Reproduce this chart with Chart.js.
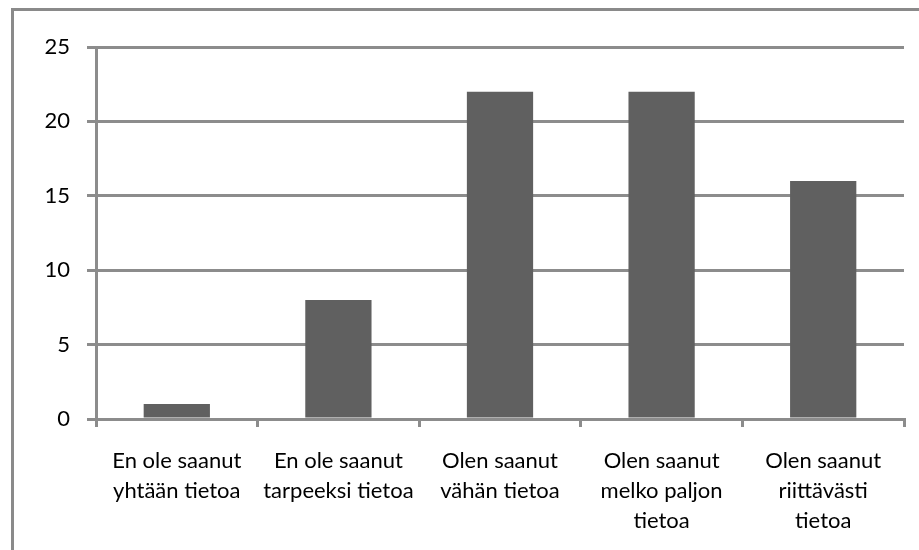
<!DOCTYPE html>
<html>
<head>
<meta charset="utf-8">
<script src="https://cdn.jsdelivr.net/npm/chart.js@4/dist/chart.umd.min.js"></script>
<style>
  html, body { margin: 0; padding: 0; width: 919px; height: 550px; overflow: hidden; background: #fff; }
  #frame { position: absolute; left: 11px; top: 8px; width: 1000px; height: 700px; border: 3px solid #8a8a8a; box-sizing: border-box; }
  #wrap { position: absolute; left: 0; top: 0; width: 919px; height: 550px; }
</style>
</head>
<body>
<div id="frame"></div>
<div id="wrap"><canvas id="c" width="919" height="550"></canvas></div>
<script>
const categories = [
  ["En ole saanut", "yhtään tietoa"],
  ["En ole saanut", "tarpeeksi tietoa"],
  ["Olen saanut", "vähän tietoa"],
  ["Olen saanut", "melko paljon", "tietoa"],
  ["Olen saanut", "riittävästi", "tietoa"]
];
const values = [1, 8, 22, 22, 16];
const yTicks = [0, 5, 10, 15, 20, 25];

const gridColor = '#8c8c8c';
const yFont = { family: 'Lato, "Liberation Sans", sans-serif', size: 22 };
const xFont = { family: 'Lato, "Liberation Sans", sans-serif', size: 22, lineHeight: 1.36 };

new Chart(document.getElementById('c'), {
  type: 'bar',
  data: {
    labels: categories,
    datasets: [{
      data: values,
      backgroundColor: '#606060',
      borderWidth: 0,
      barPercentage: 1,
      categoryPercentage: 0.41
    }]
  },
  options: {
    responsive: false,
    animation: false,
    devicePixelRatio: 1,
    layout: { padding: { left: 0, top: 47, right: 15, bottom: 0 } },
    plugins: { legend: { display: false }, tooltip: { enabled: false } },
    scales: {
      x: {
        grid: { offset: true, drawOnChartArea: false, drawTicks: true, tickLength: 8, color: gridColor, lineWidth: 3 },
        border: { display: true, color: gridColor, width: 3 },
        ticks: { color: '#000', font: xFont, padding: 19, maxRotation: 0, autoSkip: false },
        afterFit: s => { s.height = 131; }
      },
      y: {
        min: 0, max: 25,
        afterBuildTicks: s => { s.ticks = yTicks.map(v => ({ value: v })); },
        grid: { color: gridColor, lineWidth: 3, tickLength: 9, drawTicks: true },
        border: { display: true, color: gridColor, width: 3 },
        ticks: { color: '#000', font: yFont, padding: 17 },
        afterFit: s => { s.width = 96; }
      }
    }
  }
});
</script>
</body>
</html>
